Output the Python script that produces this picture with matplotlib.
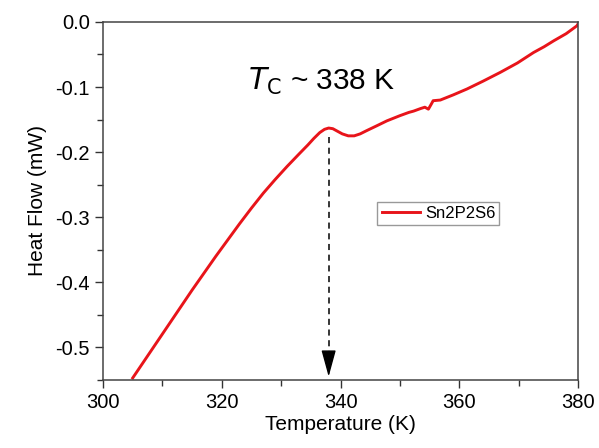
import matplotlib
matplotlib.use('Agg')
import matplotlib.pyplot as plt
from matplotlib.ticker import MultipleLocator

plt.rcParams['font.family'] = ['Liberation Sans', 'DejaVu Sans']
plt.rcParams['axes.unicode_minus'] = False

# DSC curve
temp = [305.0, 307.0, 309.0, 311.0, 313.0, 315.0, 317.0, 319.0, 321.0, 323.0,
        325.0, 327.0, 329.0, 331.0, 333.0, 334.5, 335.5, 336.5, 337.3, 338.0,
        338.7, 339.5, 340.3, 341.3, 342.3, 343.3, 344.4, 346.0, 347.8, 350.0,
        351.5, 352.3, 353.5, 354.2, 354.8, 355.3, 355.6, 356.8, 359.0, 361.3,
        364.0, 366.9, 369.8, 372.5, 374.3, 375.9, 378.0, 379.8, 380.0]
heat = [-0.547, -0.520, -0.493, -0.466, -0.439, -0.412, -0.386, -0.360, -0.335, -0.310,
        -0.286, -0.263, -0.242, -0.222, -0.203, -0.189, -0.179, -0.170, -0.165, -0.163,
        -0.164, -0.168, -0.172, -0.175, -0.175, -0.172, -0.167, -0.160, -0.152, -0.144,
        -0.139, -0.137, -0.133, -0.131, -0.134, -0.126, -0.121, -0.120, -0.112, -0.103,
        -0.091, -0.0775, -0.063, -0.047, -0.038, -0.029, -0.018, -0.006, -0.003]

tc = 338
arrow_top = -0.177
arrow_bottom = -0.545

fig = plt.figure(figsize=(5.99, 4.48), dpi=100)
ax = fig.add_axes([0.172, 0.152, 0.793, 0.799])

ax.plot(temp, heat, color='#e8141a', lw=2.1, label='Sn2P2S6')

# dashed shaft, then a solid head
ax.plot([tc, tc], [arrow_top, arrow_bottom + 0.02], color='black', lw=1.1,
        dashes=(4, 3))
ax.annotate('', xy=(tc, arrow_bottom), xytext=(tc, arrow_bottom + 0.03),
            arrowprops=dict(arrowstyle='-|>,head_width=0.3,head_length=1.1',
                            color='black', lw=1.0, mutation_scale=15,
                            shrinkA=0, shrinkB=0))

ax.text(336.9, -0.092, r'$\mathit{T}_{\mathrm{C}}$ ~ 338 K', fontsize=21.5,
        ha='center', va='center')

ax.set_xlim(300, 380)
ax.set_ylim(-0.55, 0.0)
ax.xaxis.set_major_locator(MultipleLocator(20))
ax.xaxis.set_minor_locator(MultipleLocator(10))
ax.yaxis.set_major_locator(MultipleLocator(0.1))
ax.yaxis.set_minor_locator(MultipleLocator(0.05))
ax.tick_params(which='both', direction='out', top=False, right=False,
               color='#333333', width=1.0, labelsize=14.5)
ax.tick_params(which='major', length=6)
ax.tick_params(which='minor', length=4)
for s in ax.spines.values():
    s.set_color('#444444')
    s.set_linewidth(1.1)

ax.set_xlabel('Temperature (K)', fontsize=15, labelpad=2)
ax.set_ylabel('Heat Flow (mW)', fontsize=15, labelpad=6)

ax.legend(loc='upper left', bbox_to_anchor=(0.56, 0.52), fontsize=12,
          fancybox=False, edgecolor='#999999', handlelength=2.3,
          borderpad=0.25, handletextpad=0.3, framealpha=1)

plt.savefig('out.png', dpi=100)
